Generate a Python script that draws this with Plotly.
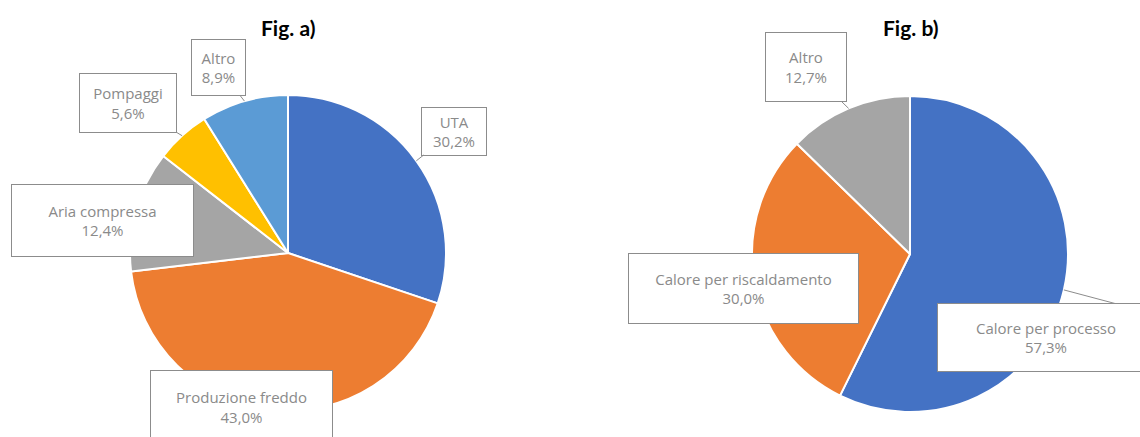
import math
import plotly.graph_objects as go

# Fig. a) - electricity uses
labels_a = ["UTA", "Produzione freddo", "Aria compressa", "Pompaggi", "Altro"]
values_a = [30.2, 43.0, 12.4, 5.6, 8.9]
colors_a = ["#4472C4", "#ED7D31", "#A5A5A5", "#FFC000", "#5B9BD5"]

# Fig. b) - thermal uses
labels_b = ["Calore per processo", "Calore per riscaldamento", "Altro"]
values_b = [57.3, 30.0, 12.7]
colors_b = ["#4472C4", "#ED7D31", "#A5A5A5"]

titles = ["Fig. a)", "Fig. b)"]

W, H = 1140, 437
R = 158
CENTER_A = (288, 253)
CENTER_B = (910, 254)
LINE_GREY = "#8c8c8c"

# label boxes: (centre x, centre y, width, height, leader)
# leader: None, "arrow" (straight to box), or x where the line meets the box top
BOXES_A = {
    "UTA": (454, 131, 64, 47, "arrow"),
    "Produzione freddo": (241, 407, 181, 72, None),
    "Aria compressa": (102, 220, 181, 71, None),
    "Pompaggi": (128, 103, 96, 58, "arrow"),
    "Altro": (218, 67, 53, 55, "arrow"),
}
BOXES_B = {
    "Calore per processo": (1046, 337, 216, 67, 1115),
    "Calore per riscaldamento": (743, 288, 229, 69, None),
    "Altro": (806, 67, 80, 68, "arrow"),
}


def fmt(v):
    return f"{v:.1f}".replace(".", ",") + "%"


def domain(center):
    cx, cy = center
    return dict(
        x=[(cx - R) / W, (cx + R) / W],
        y=[1 - (cy + R) / H, 1 - (cy - R) / H],
    )


def slice_edge_points(values, center):
    # clockwise from 12 o'clock: point on the rim at each slice's mid-angle
    cx, cy = center
    total = sum(values)
    pts, acc = [], 0.0
    for v in values:
        mid = (acc + v / 2) / total * 2 * math.pi
        pts.append((cx + R * math.sin(mid), cy - R * math.cos(mid)))
        acc += v
    return pts


fig = go.Figure()
for labels, values, colors, center in [
    (labels_a, values_a, colors_a, CENTER_A),
    (labels_b, values_b, colors_b, CENTER_B),
]:
    fig.add_trace(go.Pie(
        labels=labels,
        values=values,
        marker=dict(colors=colors, line=dict(color="#ffffff", width=2)),
        sort=False,
        direction="clockwise",
        rotation=0,
        textinfo="none",
        hoverinfo="label+percent",
        domain=domain(center),
        showlegend=False,
    ))

annotations = []
shapes = []
for labels, values, boxes, center in [
    (labels_a, values_a, BOXES_A, CENTER_A),
    (labels_b, values_b, BOXES_B, CENTER_B),
]:
    pts = slice_edge_points(values, center)
    for lab, val, (px, py) in zip(labels, values, pts):
        bx, by, bw, bh, leader = boxes[lab]
        common = dict(
            text=f"{lab}<br>{fmt(val)}",
            font=dict(family="Open Sans", size=15, color="#8a8a8a"),
            bgcolor="#ffffff",
            bordercolor=LINE_GREY,
            borderwidth=1,
            borderpad=0,
            width=bw,
            height=bh,
            align="center",
            valign="middle",
            xref="paper",
            yref="paper",
            xanchor="center",
            yanchor="middle",
        )
        if leader == "arrow":
            annotations.append(dict(
                x=px / W, y=1 - py / H,
                ax=bx - px, ay=by - py,
                axref="pixel", ayref="pixel",
                showarrow=True, arrowhead=0, arrowwidth=1,
                arrowcolor=LINE_GREY,
                **common,
            ))
        else:
            if leader is not None:
                top = by - bh / 2
                shapes.append(dict(
                    type="line", xref="paper", yref="paper",
                    x0=px / W, y0=1 - py / H,
                    x1=leader / W, y1=1 - top / H,
                    line=dict(color=LINE_GREY, width=1),
                ))
            annotations.append(dict(
                x=bx / W, y=1 - by / H, showarrow=False, **common,
            ))

for title, center in zip(titles, [CENTER_A, CENTER_B]):
    annotations.append(dict(
        text=f"<b>{title}</b>",
        x=center[0] / W, y=1 - 27 / H,
        xref="paper", yref="paper",
        xanchor="center", yanchor="middle",
        showarrow=False,
        font=dict(family="Lato", size=21, color="#000000"),
    ))

fig.update_layout(
    width=W,
    height=H,
    margin=dict(l=0, r=0, t=0, b=0),
    paper_bgcolor="#ffffff",
    plot_bgcolor="#ffffff",
    annotations=annotations,
    shapes=shapes,
)

fig.write_html("out.html")
